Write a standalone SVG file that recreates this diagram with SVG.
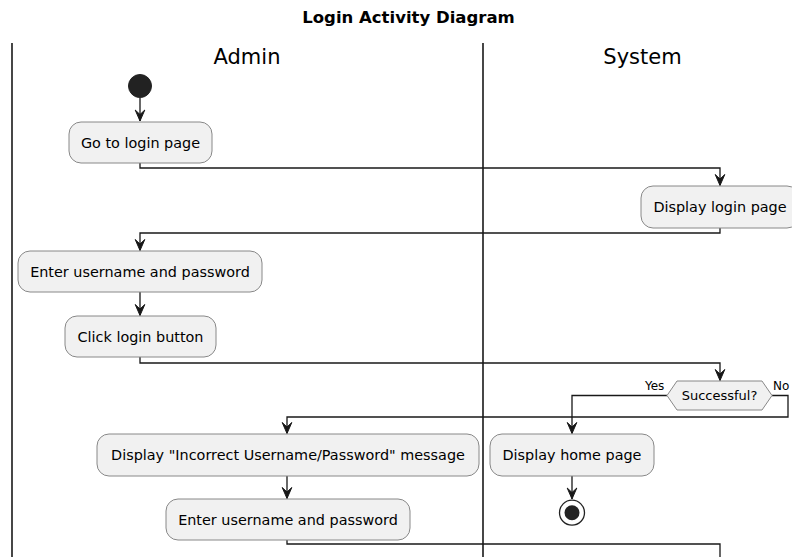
<svg xmlns="http://www.w3.org/2000/svg" width="792" height="557" viewBox="0 0 792 557">
<style>
.title{font-family:"DejaVu Sans",sans-serif;font-weight:bold;font-size:16.5px;fill:#000;text-anchor:middle}
.lane{font-family:"DejaVu Sans",sans-serif;font-size:21px;fill:#000;text-anchor:middle}
.act{fill:#F1F1F1;stroke:#888;stroke-width:1}
.t{font-family:"DejaVu Sans",sans-serif;font-size:14.4px;fill:#000;text-anchor:middle}
.dt{font-family:"DejaVu Sans",sans-serif;font-size:13px;fill:#000;text-anchor:middle}
.lbl{font-family:"DejaVu Sans",sans-serif;font-size:12px;fill:#000}
.sw{stroke:#181818;stroke-width:1.6;fill:none}
.c{stroke:#181818;stroke-width:1.3;fill:none;marker-end:url(#ah)}
.cn{stroke:#181818;stroke-width:1.3;fill:none}
</style>
<defs>
<marker id="ah" markerUnits="userSpaceOnUse" markerWidth="14" markerHeight="12" viewBox="-12 -6 14 12" refX="0" refY="0" orient="auto">
<path d="M0,0 L-11,-4.8 L-6.5,0 L-11,4.8 Z" fill="#181818" stroke="#181818" stroke-width="1"/>
</marker>
</defs>
<rect width="792" height="557" fill="#fff"/>
<text class="title" x="408.5" y="23">Login Activity Diagram</text>
<g id="swimlanes">
<line class="sw" x1="12" y1="43" x2="12" y2="557"/>
<line class="sw" x1="483" y1="43" x2="483" y2="557"/>
<text class="lane" x="247" y="64">Admin</text>
<text class="lane" x="642.5" y="64">System</text>
</g>
<g id="connectors">
<line class="c" x1="140" y1="98" x2="140" y2="121"/>
<polyline class="c" points="140,163 140,168 720,168 720,185.5"/>
<polyline class="c" points="720,228 720,233 140,233 140,250.5"/>
<line class="c" x1="140" y1="292" x2="140" y2="315.5"/>
<polyline class="c" points="140,357 140,363 720,363 720,380.5"/>
<polyline class="c" points="667,395.5 572,395.5 572,433.5"/>
<polyline class="c" points="772,395.5 788,395.5 788,417 287,417 287,433.5"/>
<line class="c" x1="287" y1="476" x2="287" y2="498.5"/>
<line class="c" x1="572" y1="476" x2="572" y2="499"/>
<polyline class="cn" points="287,540 287,544 720,544 720,557"/>
</g>
<g id="start"><circle cx="140" cy="86" r="11.5" fill="#222" stroke="#222"/></g>
<g id="go-login"><rect class="act" x="69" y="122" width="143" height="41" rx="12"/><text class="t" x="140.5" y="147.5">Go to login page</text></g>
<g id="display-login"><rect class="act" x="641" y="186" width="158" height="42" rx="12"/><text class="t" x="720" y="212">Display login page</text></g>
<g id="enter-1"><rect class="act" x="18" y="251" width="244" height="41" rx="12"/><text class="t" x="140" y="276.5">Enter username and password</text></g>
<g id="click-login"><rect class="act" x="65" y="316" width="151" height="41" rx="12"/><text class="t" x="140.5" y="341.5">Click login button</text></g>
<g id="decision">
<polygon points="667,395.5 677,381 762,381 772,395.5 762,410 677,410" fill="#F1F1F1" stroke="#888" stroke-width="1"/>
<text class="dt" x="719.5" y="400">Successful?</text>
<text class="lbl" x="645" y="390">Yes</text>
<text class="lbl" x="773" y="390">No</text>
</g>
<g id="display-incorrect"><rect class="act" x="97" y="434" width="382" height="42" rx="12"/><text class="t" x="288" y="460">Display "Incorrect Username/Password" message</text></g>
<g id="enter-2"><rect class="act" x="166" y="499" width="244" height="41" rx="12"/><text class="t" x="288" y="524.5">Enter username and password</text></g>
<g id="display-home"><rect class="act" x="490" y="434" width="164" height="42" rx="12"/><text class="t" x="572" y="460">Display home page</text></g>
<g id="end"><circle cx="572" cy="512.7" r="12.5" fill="#fff" stroke="#222" stroke-width="1.3"/><circle cx="572" cy="512.7" r="7.5" fill="#222"/></g>
</svg>
